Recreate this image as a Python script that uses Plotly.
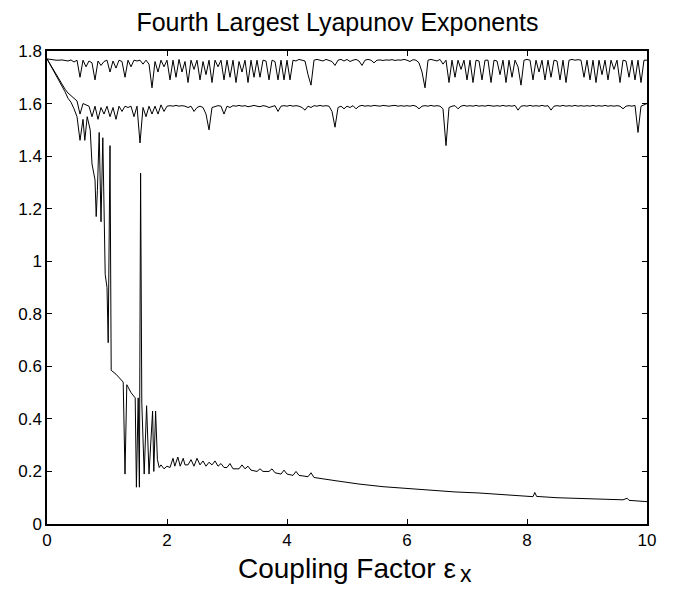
import plotly.graph_objects as go

# ---- Data ----
x_grid = [round(i * 0.05, 2) for i in range(201)]

top_series = [
    # 0.00 - 0.95
    1.770, 1.768, 1.766, 1.765, 1.765, 1.766, 1.764, 1.762, 1.766, 1.758,
    1.765, 1.700, 1.765, 1.740, 1.762, 1.755, 1.690, 1.762, 1.745, 1.760,
    # 1.00 - 1.95
    1.765, 1.720, 1.762, 1.735, 1.765, 1.760, 1.700, 1.765, 1.740, 1.765,
    1.762, 1.765, 1.750, 1.765, 1.750, 1.660, 1.760, 1.720, 1.765, 1.740,
    # 2.00 - 2.95
    1.765, 1.690, 1.765, 1.700, 1.768, 1.720, 1.760, 1.680, 1.765, 1.730,
    1.765, 1.690, 1.760, 1.710, 1.765, 1.680, 1.765, 1.740, 1.765, 1.690,
    # 3.00 - 3.95
    1.765, 1.700, 1.765, 1.680, 1.760, 1.720, 1.765, 1.680, 1.765, 1.700,
    1.765, 1.700, 1.765, 1.762, 1.690, 1.765, 1.760, 1.690, 1.765, 1.690,
    # 4.00 - 4.95
    1.765, 1.690, 1.765, 1.762, 1.768, 1.765, 1.762, 1.710, 1.670, 1.765,
    1.768, 1.765, 1.762, 1.768, 1.765, 1.760, 1.745, 1.765, 1.768, 1.762,
    # 5.00 - 5.95
    1.768, 1.760, 1.765, 1.768, 1.762, 1.745, 1.765, 1.768, 1.765, 1.755,
    1.765, 1.766, 1.764, 1.766, 1.765, 1.767, 1.764, 1.766, 1.765, 1.768,
    # 6.00 - 6.95
    1.765, 1.760, 1.767, 1.765, 1.755, 1.720, 1.660, 1.765, 1.768, 1.765,
    1.762, 1.768, 1.750, 1.765, 1.680, 1.765, 1.700, 1.765, 1.730, 1.765,
    # 7.00 - 7.95
    1.690, 1.765, 1.680, 1.765, 1.762, 1.690, 1.765, 1.765, 1.680, 1.765,
    1.762, 1.710, 1.765, 1.680, 1.765, 1.700, 1.765, 1.740, 1.670, 1.765,
    # 8.00 - 8.95
    1.768, 1.765, 1.690, 1.765, 1.720, 1.765, 1.690, 1.765, 1.700, 1.765,
    1.762, 1.690, 1.765, 1.680, 1.765, 1.768, 1.765, 1.767, 1.765, 1.700,
    # 9.00 - 10.00
    1.765, 1.690, 1.765, 1.680, 1.765, 1.710, 1.765, 1.690, 1.765, 1.730,
    1.765, 1.680, 1.765, 1.762, 1.700, 1.765, 1.690, 1.765, 1.680, 1.765,
    1.765,
]

middle_series = [
    # 0.00 - 0.95
    1.770, 1.750, 1.730, 1.710, 1.690, 1.670, 1.655, 1.640, 1.630, 1.620,
    1.610, 1.560, 1.600, 1.595, 1.590, 1.550, 1.590, 1.540, 1.585, 1.560,
    # 1.00 - 1.95
    1.590, 1.550, 1.585, 1.540, 1.590, 1.570, 1.590, 1.585, 1.590, 1.550,
    1.590, 1.450, 1.585, 1.550, 1.590, 1.560, 1.590, 1.560, 1.595, 1.570,
    # 2.00 - 2.95
    1.590, 1.592, 1.590, 1.593, 1.590, 1.592, 1.590, 1.585, 1.590, 1.570,
    1.585, 1.590, 1.585, 1.560, 1.500, 1.585, 1.590, 1.592, 1.590, 1.560,
    # 3.00 - 3.95
    1.590, 1.585, 1.592, 1.590, 1.593, 1.590, 1.592, 1.588, 1.590, 1.593,
    1.590, 1.588, 1.592, 1.590, 1.585, 1.590, 1.592, 1.570, 1.590, 1.592,
    # 4.00 - 4.95
    1.590, 1.593, 1.590, 1.592, 1.590, 1.585, 1.575, 1.590, 1.585, 1.592,
    1.590, 1.593, 1.590, 1.592, 1.590, 1.570, 1.510, 1.585, 1.590, 1.580,
    # 5.00 - 5.95
    1.590, 1.585, 1.592, 1.580, 1.590, 1.593, 1.590, 1.592, 1.590, 1.593,
    1.592, 1.590, 1.593, 1.592, 1.590, 1.592, 1.593, 1.590, 1.592, 1.590,
    # 6.00 - 6.95
    1.592, 1.590, 1.593, 1.590, 1.580, 1.590, 1.592, 1.590, 1.593, 1.590,
    1.592, 1.590, 1.580, 1.440, 1.585, 1.590, 1.592, 1.580, 1.590, 1.593,
    # 7.00 - 7.95
    1.590, 1.592, 1.590, 1.593, 1.590, 1.592, 1.590, 1.593, 1.592, 1.590,
    1.592, 1.590, 1.593, 1.590, 1.592, 1.590, 1.593, 1.575, 1.590, 1.592,
    # 8.00 - 8.95
    1.590, 1.593, 1.590, 1.592, 1.590, 1.593, 1.590, 1.592, 1.575, 1.590,
    1.592, 1.590, 1.593, 1.590, 1.592, 1.590, 1.593, 1.590, 1.592, 1.590,
    # 9.00 - 10.00
    1.592, 1.590, 1.593, 1.590, 1.592, 1.590, 1.593, 1.590, 1.592, 1.590,
    1.592, 1.590, 1.580, 1.590, 1.592, 1.590, 1.593, 1.490, 1.590, 1.595,
    1.600,
]

bottom_x = [
    0.00, 0.10, 0.20, 0.30, 0.35, 0.40, 0.45, 0.50, 0.55, 0.60,
    0.63, 0.67, 0.72, 0.75, 0.80, 0.82, 0.84, 0.87, 0.90, 0.93,
    0.97, 1.00, 1.02, 1.05, 1.07, 1.15, 1.27, 1.30, 1.33, 1.40,
    1.47, 1.49, 1.52, 1.54, 1.56, 1.58, 1.62, 1.66, 1.70, 1.76,
    1.78, 1.81, 1.84, 1.87, 1.90, 1.95, 2.00, 2.05, 2.10, 2.13,
    2.18, 2.22, 2.27, 2.30, 2.35, 2.40, 2.45, 2.50, 2.55, 2.60,
    2.65, 2.70, 2.75, 2.80, 2.85, 2.90, 2.95, 3.00, 3.05, 3.10,
    3.20, 3.25, 3.30, 3.35, 3.40, 3.50, 3.55, 3.60, 3.70, 3.75,
    3.80, 3.90, 3.95, 4.00, 4.10, 4.15, 4.20, 4.35, 4.40, 4.45,
    4.80, 5.20, 5.60, 6.00, 6.40, 6.80, 7.20, 7.50, 7.80, 8.10,
    8.13, 8.16, 8.50, 8.90, 9.30, 9.60, 9.67, 9.70, 10.00,
]
bottom_y = [
    1.770, 1.730, 1.690, 1.645, 1.620, 1.605, 1.580, 1.550, 1.460, 1.540,
    1.460, 1.550, 1.500, 1.370, 1.310, 1.170, 1.270, 1.490, 1.150, 1.470,
    0.950, 0.900, 0.690, 1.440, 0.585, 0.570, 0.540, 0.190, 0.530, 0.500,
    0.480, 0.140, 0.480, 0.140, 1.335, 0.460, 0.190, 0.450, 0.190, 0.430,
    0.200, 0.430, 0.245, 0.215, 0.225, 0.210, 0.220, 0.215, 0.250, 0.220,
    0.255, 0.220, 0.250, 0.225, 0.225, 0.245, 0.220, 0.250, 0.225, 0.240,
    0.220, 0.235, 0.225, 0.240, 0.220, 0.230, 0.215, 0.215, 0.230, 0.210,
    0.210, 0.225, 0.210, 0.220, 0.205, 0.200, 0.210, 0.200, 0.200, 0.210,
    0.195, 0.190, 0.205, 0.190, 0.185, 0.200, 0.185, 0.180, 0.195, 0.177,
    0.165, 0.152, 0.142, 0.135, 0.128, 0.122, 0.118, 0.114, 0.108, 0.104,
    0.120, 0.105, 0.100, 0.097, 0.094, 0.092, 0.098, 0.090, 0.085,
]

x_ticks = [0, 2, 4, 6, 8, 10]
y_ticks = [0, 0.2, 0.4, 0.6, 0.8, 1.0, 1.2, 1.4, 1.6, 1.8]
y_tick_labels = ["0", "0.2", "0.4", "0.6", "0.8", "1", "1.2", "1.4", "1.6", "1.8"]

title_text = "Fourth Largest Lyapunov Exponents"
xlabel_main = "Coupling Factor ε"
xlabel_sub = "x"

# ---- Figure ----
fig = go.Figure()
line_style = dict(color="black", width=1)
fig.add_trace(go.Scatter(x=x_grid, y=top_series, mode="lines", line=line_style, showlegend=False))
fig.add_trace(go.Scatter(x=x_grid, y=middle_series, mode="lines", line=line_style, showlegend=False))
fig.add_trace(go.Scatter(x=bottom_x, y=bottom_y, mode="lines", line=line_style, showlegend=False))

font_family = "Liberation Sans, Arial, Helvetica, sans-serif"
plot_h = 590 - 51 - 66  # plot area height in px

fig.update_layout(
    width=675, height=590,
    margin=dict(l=47, r=28, t=51, b=66),
    paper_bgcolor="white", plot_bgcolor="white",
    font=dict(family=font_family, color="black", size=17),
    title=dict(text=title_text, x=0.5, xanchor="center", y=1 - 22 / 590, yanchor="middle",
               font=dict(size=25, family=font_family, color="black")),
    annotations=[
        dict(text=xlabel_main, xref="paper", yref="paper", x=0.5, y=-27 / plot_h,
             xanchor="center", yanchor="top", showarrow=False,
             font=dict(size=28, family=font_family, color="black")),
        dict(text=xlabel_sub, xref="paper", yref="paper", x=(466 - 47) / 600, y=-65 / plot_h,
             xanchor="center", yanchor="bottom", showarrow=False,
             font=dict(size=23, family=font_family, color="black")),
    ],
)
fig.update_xaxes(
    range=[0, 10], tickvals=x_ticks, ticktext=[str(v) for v in x_ticks],
    showgrid=False, zeroline=False, showline=True, linecolor="black", linewidth=1.5,
    mirror="ticks", ticks="inside", ticklen=5, tickcolor="black", tickwidth=1,
    tickfont=dict(size=17),
)
fig.update_yaxes(
    range=[0, 1.8], tickvals=y_ticks, ticktext=y_tick_labels,
    showgrid=False, zeroline=False, showline=True, linecolor="black", linewidth=1.5,
    mirror="ticks", ticks="inside", ticklen=5, tickcolor="black", tickwidth=1,
    tickfont=dict(size=17),
)

fig.write_html("out.html")
